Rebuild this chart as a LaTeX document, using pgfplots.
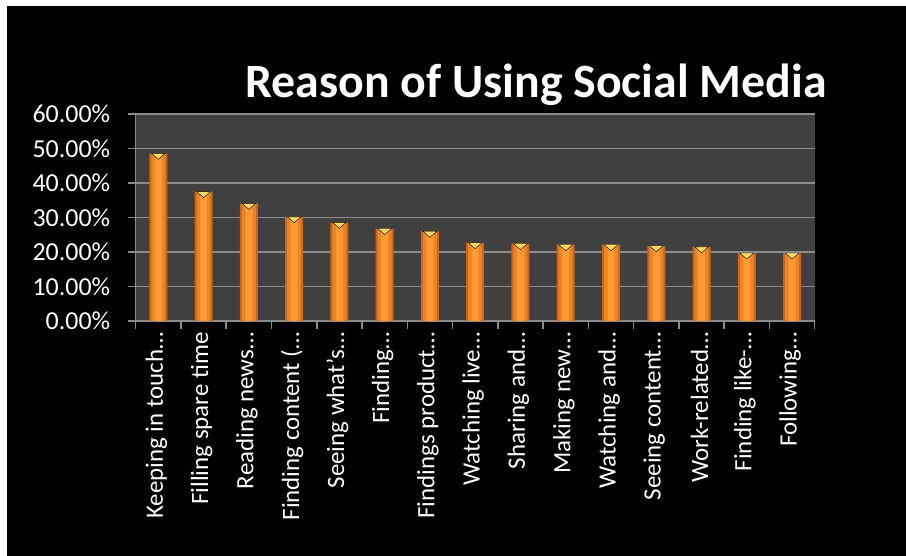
\documentclass[border=0pt]{standalone}
\usepackage{pgfplots}
\pgfplotsset{compat=1.18}
\usepackage{fontspec}
\setmainfont{Carlito}
\definecolor{plotbg}{HTML}{404040}
\definecolor{gridc}{HTML}{8C8C8C}
\definecolor{barout}{HTML}{C8651A}
\definecolor{barmid}{HTML}{EC8424}
\definecolor{barin}{HTML}{FF9A35}
\definecolor{barcap}{HTML}{FFD966}
\begin{document}
\begin{tikzpicture}[x=1bp,y=1bp]
\useasboundingbox (0,0) rectangle (906,556);
\fill[white] (0,0) rectangle (906,556);
\fill[black] (7,0) rectangle (906,550);
\node[white, font=\fontsize{48}{54}\selectfont\bfseries] at (536,471) {Reason of Using Social Media};
\begin{axis}[
  at={(135.7bp,235bp)}, anchor=south west, scale only axis,
  width=679bp, height=207bp,
  xmin=-0.5, xmax=14.5, ymin=0, ymax=60,
  axis background/.style={fill=plotbg},
  axis x line*=bottom, axis y line*=left,
  axis line style={gridc, line width=1.5bp, -},
  ytick={0,10,20,30,40,50,60},
  yticklabels={0.00\%,10.00\%,20.00\%,30.00\%,40.00\%,50.00\%,60.00\%},
  ymajorgrids, grid style={gridc, line width=1.5bp},
  tick align=outside, major tick length=8bp, minor tick length=8bp,
  ytick style={gridc, line width=1.5bp},
  xtick={0,...,14},
  minor xtick={-0.5,0.5,1.5,2.5,3.5,4.5,5.5,6.5,7.5,8.5,9.5,10.5,11.5,12.5,13.5,14.5},
  major x tick style={draw=none},
  minor x tick style={draw=gridc, line width=1.5bp},
  xticklabels={{Keeping in touch…},{Filling spare time},{Reading news…},{Finding content (…},{Seeing what’s…},{Finding…},{Findings product…},{Watching live…},{Sharing and…},{Making new…},{Watching and…},{Seeing content…},{Work-related…},{Finding like-…},{Following…}},
  xticklabel style={rotate=90, anchor=east, white, font=\fontsize{25}{28}\selectfont, yshift=2bp},
  yticklabel style={white, font=\fontsize{26}{28}\selectfont, xshift=-14bp},
]
\addplot[ybar, bar width=18bp, bar shift=0pt, fill=barout, draw=none] coordinates {
(0,48.6) (1,37.5) (2,34.1) (3,30.2) (4,28.6) (5,26.8) (6,26.0) (7,22.7) (8,22.4) (9,22.1) (10,22.1) (11,21.8) (12,21.5) (13,19.7) (14,19.7)};
\addplot[ybar, bar width=14bp, bar shift=0pt, fill=barmid, draw=none] coordinates {
(0,48.6) (1,37.5) (2,34.1) (3,30.2) (4,28.6) (5,26.8) (6,26.0) (7,22.7) (8,22.4) (9,22.1) (10,22.1) (11,21.8) (12,21.5) (13,19.7) (14,19.7)};
\addplot[ybar, bar width=7bp, bar shift=0pt, fill=barin, draw=none] coordinates {
(0,48.6) (1,37.5) (2,34.1) (3,30.2) (4,28.6) (5,26.8) (6,26.0) (7,22.7) (8,22.4) (9,22.1) (10,22.1) (11,21.8) (12,21.5) (13,19.7) (14,19.7)};
\addplot[only marks, mark=triangle*, mark size=8bp, mark options={yshift=-2bp, rotate=180, yscale=0.5, fill=barcap, draw=none}] coordinates {
(0,48.6) (1,37.5) (2,34.1) (3,30.2) (4,28.6) (5,26.8) (6,26.0) (7,22.7) (8,22.4) (9,22.1) (10,22.1) (11,21.8) (12,21.5) (13,19.7) (14,19.7)};
\end{axis}
\end{tikzpicture}
\end{document}
